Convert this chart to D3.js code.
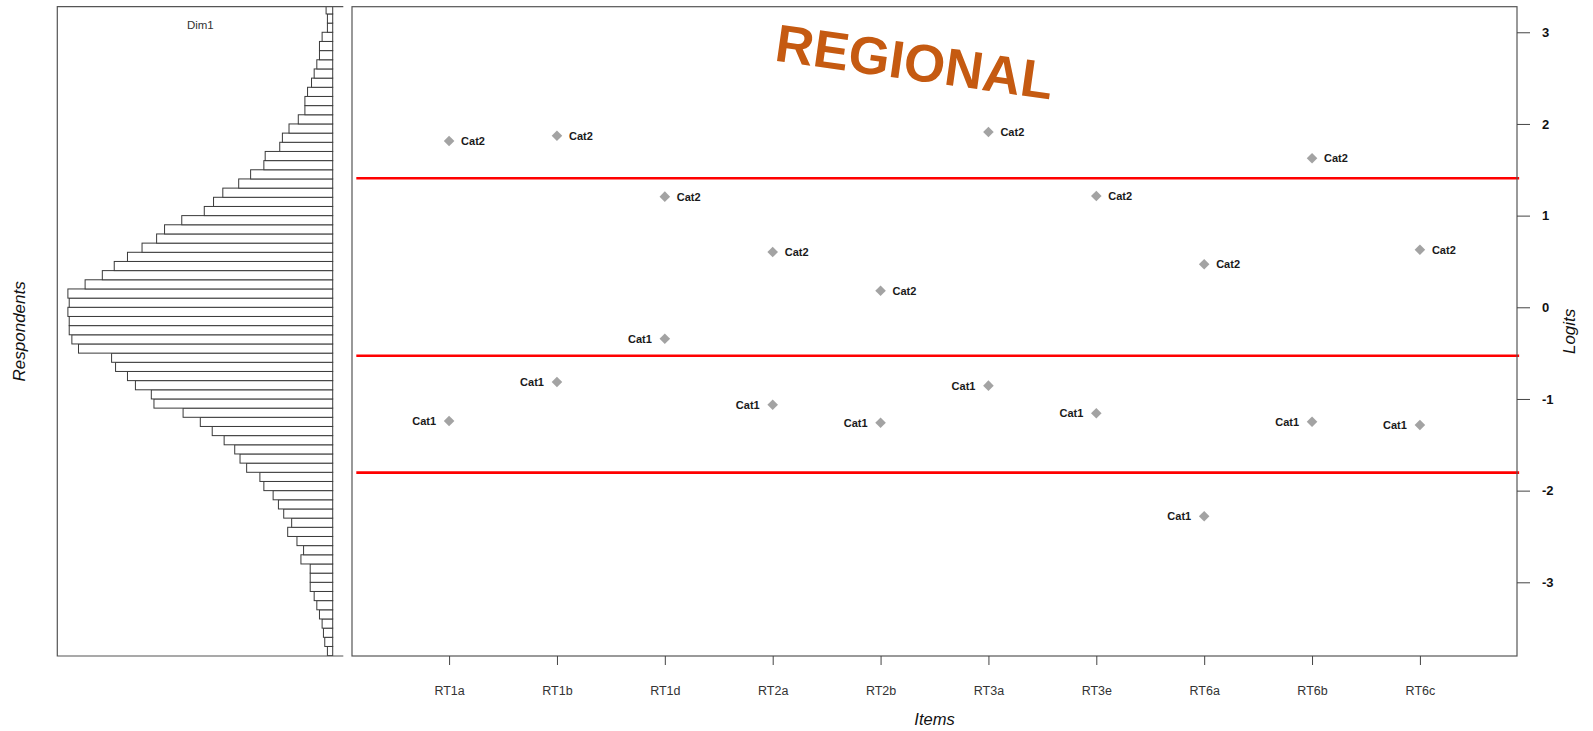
<!DOCTYPE html>
<html>
<head>
<meta charset="utf-8">
<script src="https://cdn.jsdelivr.net/npm/d3@7/dist/d3.min.js"></script>
<style>
  html, body { margin: 0; padding: 0; background: #ffffff; }
  svg { display: block; }
  text { font-family: Arial, "Liberation Sans", sans-serif; }
</style>
</head>
<body>
<svg id="chart" width="1593" height="731"></svg>
<script>
// Item labels and Thurstonian threshold locations (logits)
const items = ["RT1a", "RT1b", "RT1d", "RT2a", "RT2b", "RT3a", "RT3e", "RT6a", "RT6b", "RT6c"];
const cat1 = [-1.24, -0.815, -0.343, -1.063, -1.259, -0.855, -1.156, -2.28, -1.248, -1.284];
const cat2 = [1.814, 1.872, 1.207, 0.603, 0.181, 1.912, 1.214, 0.469, 1.625, 0.628];

// Cut-off lines drawn across the item panel
const cutoffs = [1.407, -0.528, -1.804];

// Logit axis ticks
const yTicks = [-3, -2, -1, 0, 1, 2, 3];

// Person ability distribution: counts per 0.1-logit bin, lowest bin first
const binStart = -3.8;
const binWidth = 0.1;
const personCounts = [
  4, 6, 7, 8, 10, 12, 14, 17, 17, 17,
  24, 22, 27, 34, 31, 37, 41, 45, 52, 55,
  65, 70, 74, 82, 91, 100, 113, 135, 137, 149,
  155, 164, 167, 192, 197, 199, 199, 200, 199, 200,
  187, 174, 165, 155, 144, 133, 127, 114, 97, 90,
  83, 71, 62, 52, 51, 40, 38, 33, 26, 21,
  21, 19, 16, 14, 12, 10, 10, 8, 4, 4, 5
];

const svg = d3.select("#chart");

// Shared vertical (logit) scale
const plotTop = 6.7, plotBottom = 656;
const y = d3.scaleLinear().domain([-3.804, 3.279]).range([plotBottom, plotTop]);

// ---------- Person histogram panel ----------
const histLeft = 57.3, histRight = 343.3;
const maxCount = d3.max(personCounts);
const hx = d3.scaleLinear()
  .domain([-0.04 * maxCount, 1.04 * maxCount])
  .range([histRight, histLeft]);

svg.append("clipPath").attr("id", "histClip")
  .append("rect")
  .attr("x", histLeft).attr("y", plotTop)
  .attr("width", histRight - histLeft).attr("height", plotBottom - plotTop);

const bins = personCounts.map((c, i) => ({ lo: binStart + i * binWidth, hi: binStart + (i + 1) * binWidth, c }));

svg.append("g").attr("clip-path", "url(#histClip)")
  .selectAll("rect").data(bins).enter().append("rect")
  .attr("x", d => hx(d.c))
  .attr("y", d => y(d.hi))
  .attr("width", d => hx(0) - hx(d.c))
  .attr("height", d => y(d.lo) - y(d.hi))
  .attr("fill", "#ffffff")
  .attr("stroke", "#3a3a3a")
  .attr("stroke-width", 1);

// open box: top, left, bottom
svg.append("path")
  .attr("d", `M${histRight},${plotTop}H${histLeft}V${plotBottom}H${histRight}`)
  .attr("fill", "none").attr("stroke", "#555").attr("stroke-width", 1.2);

svg.append("text")
  .attr("x", (histLeft + histRight) / 2).attr("y", 29.3)
  .attr("text-anchor", "middle").attr("font-size", 11.5).attr("fill", "#333")
  .text("Dim1");

svg.append("text")
  .attr("transform", `translate(24.5,${(plotTop + plotBottom) / 2}) rotate(-90)`)
  .attr("text-anchor", "middle").attr("font-size", 17).attr("font-style", "italic").attr("fill", "#111")
  .text("Respondents");

// ---------- Item panel ----------
const mainLeft = 352, mainRight = 1517;
const x = d3.scaleLinear().domain([0.1, 10.9]).range([mainLeft, mainRight]);
const itemPos = items.map((d, i) => i + 1);

// cut-off lines
svg.append("g").selectAll("line").data(cutoffs).enter().append("line")
  .attr("x1", x(0.14)).attr("x2", x(10.92))
  .attr("y1", d => y(d)).attr("y2", d => y(d))
  .attr("stroke", "#ff0000").attr("stroke-width", 2.6);

// threshold markers
const points = [];
items.forEach((it, i) => {
  points.push({ item: it, pos: itemPos[i], v: cat1[i], label: "Cat1", side: -1 });
  points.push({ item: it, pos: itemPos[i], v: cat2[i], label: "Cat2", side: 1 });
});

const diamond = d3.symbol().type(d3.symbolSquare).size(56);
svg.append("g").selectAll("path").data(points).enter().append("path")
  .attr("d", diamond)
  .attr("transform", d => `translate(${x(d.pos)},${y(d.v)}) rotate(45)`)
  .attr("fill", "#a3a3a3");

svg.append("g").selectAll("text").data(points).enter().append("text")
  .attr("x", d => x(d.pos) + (d.side > 0 ? 12 : -13))
  .attr("y", d => y(d.v))
  .attr("dy", "0.36em")
  .attr("text-anchor", d => d.side > 0 ? "start" : "end")
  .attr("font-size", 11).attr("font-weight", "bold").attr("fill", "#1a1a1a")
  .text(d => d.label);

// box
svg.append("rect")
  .attr("x", mainLeft).attr("y", plotTop)
  .attr("width", mainRight - mainLeft).attr("height", plotBottom - plotTop)
  .attr("fill", "none").attr("stroke", "#555").attr("stroke-width", 1.2);

// item axis
const xAxis = d3.axisBottom(x)
  .tickValues(itemPos)
  .tickFormat((d, i) => items[i])
  .tickSize(9).tickPadding(21.5);
const gx = svg.append("g").attr("transform", `translate(0,${plotBottom})`).call(xAxis);
gx.select(".domain").remove();
gx.selectAll("line").attr("stroke", "#444");
gx.selectAll("text").attr("font-size", 12.5).attr("fill", "#333")
  .attr("font-family", 'Arial, "Liberation Sans", sans-serif');

// logit axis (plain hyphen for negatives)
const yAxis = d3.axisRight(y).tickValues(yTicks)
  .tickFormat(d => (d < 0 ? "-" : "") + Math.abs(d))
  .tickSize(13).tickPadding(12);
const gy = svg.append("g").attr("transform", `translate(${mainRight},0)`).call(yAxis);
gy.select(".domain").remove();
gy.selectAll("line").attr("stroke", "#444");
gy.selectAll("text").attr("font-size", 13).attr("font-weight", "bold").attr("fill", "#111")
  .attr("font-family", 'Arial, "Liberation Sans", sans-serif');

svg.append("text")
  .attr("x", (mainLeft + mainRight) / 2).attr("y", 725)
  .attr("text-anchor", "middle").attr("font-size", 16.5).attr("font-style", "italic").attr("fill", "#111")
  .text("Items");

svg.append("text")
  .attr("transform", `translate(1575,${(plotTop + plotBottom) / 2}) rotate(-90)`)
  .attr("text-anchor", "middle").attr("font-size", 17).attr("font-style", "italic").attr("fill", "#111")
  .text("Logits");

// panel heading
svg.append("text")
  .attr("transform", "translate(912,80) rotate(8)")
  .attr("text-anchor", "middle")
  .attr("font-family", "Lato, 'Open Sans', sans-serif")
  .attr("font-weight", "bold").attr("font-size", 53).attr("fill", "#c55a11")
  .text("REGIONAL");
</script>
</body>
</html>
